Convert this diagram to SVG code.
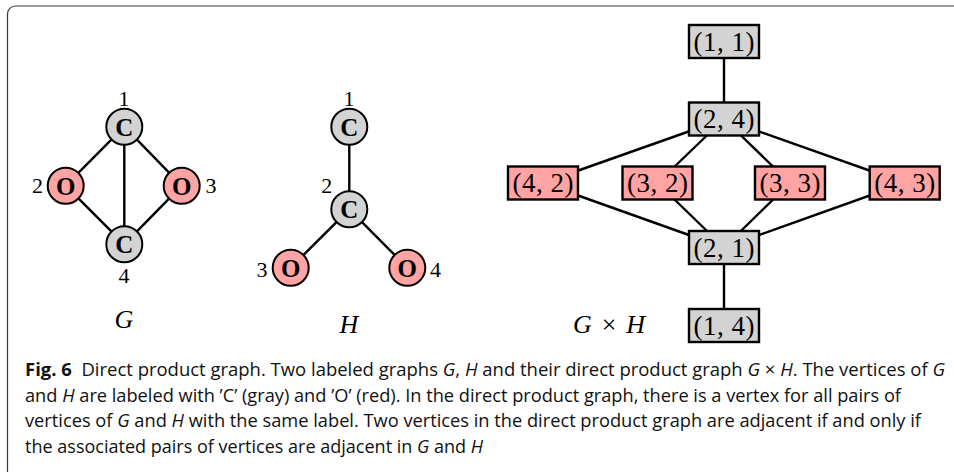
<svg xmlns="http://www.w3.org/2000/svg" width="954" height="472" viewBox="0 0 954 472">
<style>
.frame{fill:none;stroke:#3a3a3a;stroke-width:1.2}
.edge{stroke:#000;stroke-width:2.4;fill:none}
.cg{fill:#d3d3d3;stroke:#000;stroke-width:2}
.cr{fill:#ffa3a3;stroke:#000;stroke-width:2}
.atom{font-family:"Liberation Serif","DejaVu Serif",serif;font-weight:bold;font-size:25px;text-anchor:middle;fill:#000}
.num{font-family:"Liberation Serif","DejaVu Serif",serif;font-size:22px;text-anchor:middle;fill:#000}
.ttl{font-family:"Liberation Serif","DejaVu Serif",serif;font-style:italic;font-size:26px;text-anchor:middle;fill:#000}
.rg{fill:#d3d3d3;stroke:#000;stroke-width:2.4}
.rr{fill:#ffa3a3;stroke:#000;stroke-width:2.4}
.pl{font-family:"Liberation Serif","DejaVu Serif",serif;font-size:27px;text-anchor:middle;fill:#000}
.cap{font-family:"Open Sans","Noto Sans",sans-serif;font-size:18px;fill:#111}
.it{font-style:italic}
.b{font-weight:bold}
</style>
<path class="frame" d="M7.5 472 V14 A8 8 0 0 1 15.5 6 H954"/>

<g id="connectors">
  <line class="edge" x1="124.3" y1="126.7" x2="65.7" y2="185.7"/>
  <line class="edge" x1="124.3" y1="126.7" x2="181.7" y2="185.7"/>
  <line class="edge" x1="124.3" y1="126.7" x2="124.3" y2="244.3"/>
  <line class="edge" x1="65.7" y1="185.7" x2="124.3" y2="244.3"/>
  <line class="edge" x1="181.7" y1="185.7" x2="124.3" y2="244.3"/>
  <line class="edge" x1="349.3" y1="126.7" x2="349.3" y2="209.3"/>
  <line class="edge" x1="349.3" y1="209.3" x2="290.7" y2="267.7"/>
  <line class="edge" x1="349.3" y1="209.3" x2="407.3" y2="267.7"/>
  <line class="edge" x1="724" y1="41" x2="724" y2="119"/>
  <line class="edge" x1="724" y1="119" x2="543" y2="183"/>
  <line class="edge" x1="724" y1="119" x2="657.5" y2="183"/>
  <line class="edge" x1="724" y1="119" x2="790" y2="183"/>
  <line class="edge" x1="724" y1="119" x2="904.7" y2="183"/>
  <line class="edge" x1="724" y1="247.5" x2="543" y2="183"/>
  <line class="edge" x1="724" y1="247.5" x2="657.5" y2="183"/>
  <line class="edge" x1="724" y1="247.5" x2="790" y2="183"/>
  <line class="edge" x1="724" y1="247.5" x2="904.7" y2="183"/>
  <line class="edge" x1="724" y1="247.5" x2="724" y2="325.5"/>
</g>

<g id="G1"><circle class="cg" cx="124.3" cy="126.7" r="18"/><text class="atom" x="124.3" y="135.5">C</text><text class="num" x="124" y="106">1</text></g>
<g id="G2"><circle class="cr" cx="65.7" cy="185.7" r="18"/><text class="atom" x="65.7" y="194.5">O</text><text class="num" x="37.5" y="193.3">2</text></g>
<g id="G3"><circle class="cr" cx="181.7" cy="185.7" r="18"/><text class="atom" x="181.7" y="194.5">O</text><text class="num" x="211" y="193.3">3</text></g>
<g id="G4"><circle class="cg" cx="124.3" cy="244.3" r="18"/><text class="atom" x="124.3" y="253.1">C</text><text class="num" x="124" y="283.3">4</text></g>
<g id="G"><text class="ttl" x="124" y="328">G</text></g>

<g id="H1"><circle class="cg" cx="349.3" cy="126.7" r="18"/><text class="atom" x="349.3" y="135.5">C</text><text class="num" x="349" y="106">1</text></g>
<g id="H2"><circle class="cg" cx="349.3" cy="209.3" r="18"/><text class="atom" x="349.3" y="218.1">C</text><text class="num" x="326.7" y="192.7">2</text></g>
<g id="H3"><circle class="cr" cx="290.7" cy="267.7" r="18"/><text class="atom" x="290.7" y="276.5">O</text><text class="num" x="262" y="276.7">3</text></g>
<g id="H4"><circle class="cr" cx="407.3" cy="267.7" r="18"/><text class="atom" x="407.3" y="276.5">O</text><text class="num" x="435.5" y="277">4</text></g>
<g id="H"><text class="ttl" x="349" y="333">H</text></g>

<g id="P11"><rect class="rg" x="689" y="25" width="70" height="33"/><text class="pl" x="724" y="50.5" textLength="61">(1, 1)</text></g>
<g id="P24"><rect class="rg" x="689" y="102.5" width="70" height="33"/><text class="pl" x="724" y="128" textLength="61">(2, 4)</text></g>
<g id="P42"><rect class="rr" x="508" y="166.5" width="70" height="33"/><text class="pl" x="543" y="192" textLength="61">(4, 2)</text></g>
<g id="P32"><rect class="rr" x="622.5" y="166.5" width="70" height="33"/><text class="pl" x="657.5" y="192" textLength="61">(3, 2)</text></g>
<g id="P33"><rect class="rr" x="755" y="166.5" width="70" height="33"/><text class="pl" x="790" y="192" textLength="61">(3, 3)</text></g>
<g id="P43"><rect class="rr" x="869.7" y="166.5" width="70" height="33"/><text class="pl" x="904.7" y="192" textLength="61">(4, 3)</text></g>
<g id="P21"><rect class="rg" x="689" y="231" width="70" height="33"/><text class="pl" x="724" y="256.5" textLength="61">(2, 1)</text></g>
<g id="P14"><rect class="rg" x="689" y="309" width="70" height="33"/><text class="pl" x="724" y="334.5" textLength="61">(1, 4)</text></g>
<g id="GxH"><text class="ttl" x="609" y="333" textLength="72">G <tspan font-style="normal">×</tspan> H</text></g>

<g id="caption">
<text class="cap" x="25" y="376" textLength="920" lengthAdjust="spacingAndGlyphs" xml:space="preserve"><tspan class="b">Fig. 6</tspan>  Direct product graph. Two labeled graphs <tspan class="it">G</tspan>, <tspan class="it">H</tspan> and their direct product graph <tspan class="it">G</tspan> × <tspan class="it">H</tspan>. The vertices of <tspan class="it">G</tspan></text>
<text class="cap" x="25" y="401.5" textLength="876" lengthAdjust="spacingAndGlyphs">and <tspan class="it">H</tspan> are labeled with ’C’ (gray) and ’O’ (red). In the direct product graph, there is a vertex for all pairs of</text>
<text class="cap" x="25" y="427" textLength="896" lengthAdjust="spacingAndGlyphs">vertices of <tspan class="it">G</tspan> and <tspan class="it">H</tspan> with the same label. Two vertices in the direct product graph are adjacent if and only if</text>
<text class="cap" x="25" y="452.5" textLength="458" lengthAdjust="spacingAndGlyphs">the associated pairs of vertices are adjacent in <tspan class="it">G</tspan> and <tspan class="it">H</tspan></text>
</g>
</svg>
